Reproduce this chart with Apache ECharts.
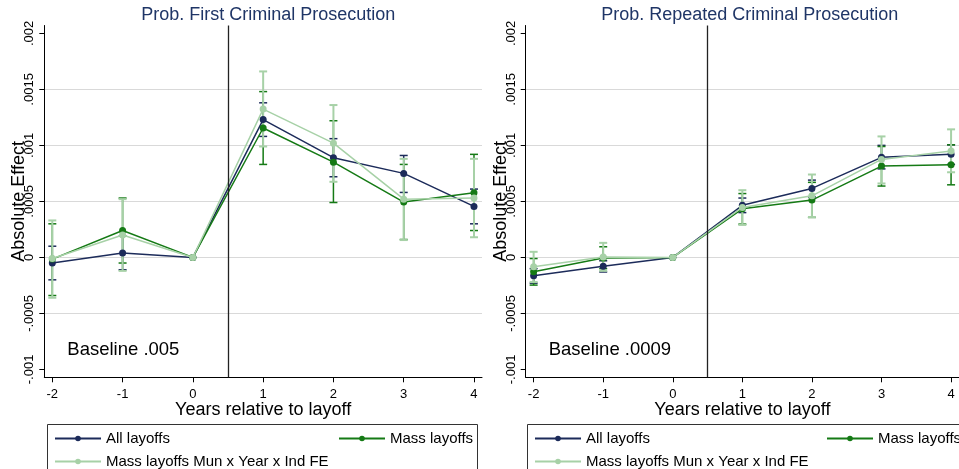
<!DOCTYPE html>
<html>
<head>
<meta charset="utf-8">
<script src="https://cdn.jsdelivr.net/npm/echarts@6/dist/echarts.min.js"></script>
<style>
html,body{margin:0;padding:0;background:#fff;}
#chart{width:959px;height:469px;}
</style>
</head>
<body>
<div id="chart"></div>
<script>
// ---------- DATA ----------
const years = [-2, -1, 0, 1, 2, 3, 4];
const yTicks = [-0.001, -0.0005, 0, 0.0005, 0.001, 0.0015, 0.002];
const layoffLine = 0.5;
const seriesNames = ['All layoffs', 'Mass layoffs', 'Mass layoffs Mun x Year x Ind FE'];
const panelTitles = ['Prob. First Criminal Prosecution', 'Prob. Repeated Criminal Prosecution'];
const baselines = ['Baseline .005', 'Baseline .0009'];
const xTitle = 'Years relative to layoff';
const yTitle = 'Absolute Effect';

// Panel 1: first criminal prosecution
const firstAll    = [-0.00005, 0.00004, 0, 0.00123, 0.00089, 0.00075, 0.000455];
const firstAllLo  = [-0.0002, -0.00011, 0, 0.00108, 0.00072, 0.00058, 0.0003];
const firstAllHi  = [0.0001, 0.00019, 0, 0.00138, 0.00106, 0.00091, 0.00061];
const firstMass   = [-0.000015, 0.00024, 0, 0.001155, 0.00085, 0.000494, 0.000577];
const firstMassLo = [-0.00034, -0.00005, 0, 0.00083, 0.00049, 0.00016, 0.00024];
const firstMassHi = [0.0003, 0.00053, 0, 0.00148, 0.00122, 0.00083, 0.00092];
const firstFE     = [-0.00001, 0.0002, 0, 0.001324, 0.00102, 0.00052, 0.00053];
const firstFELo   = [-0.00036, -0.00012, 0, 0.00099, 0.000675, 0.000155, 0.00018];
const firstFEHi   = [0.00033, 0.00052, 0, 0.00166, 0.00136, 0.00088, 0.00088];

// Panel 2: repeated criminal prosecution
const repAll    = [-0.000164, -0.000078, 0, 0.000465, 0.000616, 0.000893, 0.00092];
const repAllLo  = [-0.00023, -0.00013, 0, 0.0004, 0.00054, 0.00079, 0.00083];
const repAllHi  = [-0.0001, -0.00003, 0, 0.00053, 0.00069, 0.001, 0.001005];
const repMass   = [-0.000128, -0.000005, 0, 0.000434, 0.000512, 0.000815, 0.000827];
const repMassLo = [-0.000247, -0.0001, 0, 0.000297, 0.000357, 0.000637, 0.000648];
const repMassHi = [-0.00001, 0.000095, 0, 0.00057, 0.00067, 0.00099, 0.001005];
const repFE     = [-0.000083, 0.000003, 0, 0.000446, 0.00055, 0.000875, 0.000949];
const repFELo   = [-0.00022, -0.00012, 0, 0.00029, 0.00036, 0.00066, 0.00076];
const repFEHi   = [0.00005, 0.00013, 0, 0.0006, 0.00074, 0.00108, 0.001143];

// ---------- STYLE ----------
const colors = ['#1c2b5a', '#157a15', '#a7d1a7'];
const font = "'Liberation Sans', Arial, Helvetica, sans-serif";

const panels = [
  { est: [firstAll, firstMass, firstFE], lo: [firstAllLo, firstMassLo, firstFELo], hi: [firstAllHi, firstMassHi, firstFEHi] },
  { est: [repAll, repMass, repFE], lo: [repAllLo, repMassLo, repFELo], hi: [repAllHi, repMassHi, repFEHi] }
];

const gridLefts = [44.3, 525.7];
const gridWidth = 437.7;

function fmtY(v) {
  if (Math.abs(v) < 1e-12) return '0';
  return String(+v.toPrecision(6)).replace('0.', '.');
}

const grids = [], xAxes = [], yAxes = [], series = [], titles = [], legends = [], graphics = [];

panels.forEach((p, k) => {
  grids.push({ left: gridLefts[k], top: 25.5, width: gridWidth, height: 351.8, containLabel: false });
  xAxes.push({
    type: 'value', gridIndex: k, min: -2.114, max: 4.114,
    name: xTitle, nameLocation: 'middle', nameGap: 24, nameMoveOverlap: false,
    nameTextStyle: { fontSize: 18, color: '#000', fontFamily: font },
    axisLine: { show: true, onZero: false, lineStyle: { color: '#000', width: 1 } },
    axisTick: { show: true, length: 5, customValues: years, lineStyle: { color: '#000' } },
    axisLabel: { customValues: years, fontSize: 13, color: '#000', margin: 11, fontFamily: font },
    splitLine: { show: false }
  });
  yAxes.push({
    type: 'value', gridIndex: k, min: -0.00107, max: 0.00207,
    name: yTitle, nameLocation: 'middle', nameGap: 16, nameMoveOverlap: false,
    nameTextStyle: { fontSize: 18, color: '#000', fontFamily: font },
    axisLine: { show: true, onZero: false, lineStyle: { color: '#000', width: 1 } },
    axisTick: { show: true, length: 5, customValues: yTicks, lineStyle: { color: '#000' } },
    axisLabel: { customValues: yTicks, rotate: 90, fontSize: 13, color: '#000', margin: 8, formatter: fmtY, fontFamily: font },
    splitLine: { show: true, showMinLine: false, showMaxLine: false, lineStyle: { color: '#d9d9d9', width: 1 } }
  });

  // confidence intervals first
  p.est.forEach((est, s) => {
    const lo = p.lo[s], hi = p.hi[s];
    const d = years.map((y, i) => [y, lo[i], hi[i]]).filter(r => r[1] !== r[2]);
    series.push({
      type: 'custom', xAxisIndex: k, yAxisIndex: k, silent: true, z: 2 + s * 0.1,
      data: d, encode: { x: 0, y: [1, 2] },
      renderItem: function (params, api) {
        const x = api.value(0);
        const a = api.coord([x, api.value(1)]);
        const b = api.coord([x, api.value(2)]);
        const cw = 4;
        const st = { stroke: colors[s], lineWidth: s === 2 ? 2 : 1.5 };
        return {
          type: 'group', children: [
            { type: 'line', shape: { x1: a[0], y1: a[1], x2: b[0], y2: b[1] }, style: st },
            { type: 'line', shape: { x1: a[0] - cw, y1: a[1], x2: a[0] + cw, y2: a[1] }, style: st },
            { type: 'line', shape: { x1: b[0] - cw, y1: b[1], x2: b[0] + cw, y2: b[1] }, style: st }
          ]
        };
      }
    });
  });
  // point estimate lines
  p.est.forEach((est, s) => {
    const ser = {
      type: 'line', name: seriesNames[s], xAxisIndex: k, yAxisIndex: k, z: 3 + s * 0.1,
      data: years.map((y, i) => [y, est[i]]),
      symbol: 'circle', symbolSize: 7, showSymbol: true,
      lineStyle: { color: colors[s], width: 1.5 },
      itemStyle: { color: colors[s] },
      emphasis: { disabled: true }
    };
    if (s === 0) {
      ser.markLine = {
        silent: true, symbol: 'none', label: { show: false },
        lineStyle: { color: '#222', width: 1.3, type: 'solid' },
        data: [{ xAxis: layoffLine }]
      };
    }
    series.push(ser);
  });

  const cx = gridLefts[k] + 219;
  titles.push({ text: panelTitles[k], left: cx, top: 1, textAlign: 'center',
    textStyle: { fontSize: 18, fontWeight: 'normal', color: '#1f3566', fontFamily: font } });
  titles.push({ text: baselines[k], left: gridLefts[k] + 18, top: 335,
    textStyle: { fontSize: 18.5, fontWeight: 'normal', color: '#000', fontFamily: font } });

  const off = k * 480;
  const legText = { fontSize: 15, color: '#000', fontFamily: font };
  legends.push({ data: [seriesNames[0]], left: 49 + off, top: 426, itemWidth: 46, itemHeight: 7, selectedMode: false, textStyle: legText });
  legends.push({ data: [seriesNames[1]], left: 333 + off + (k ? 8 : 0), top: 426, itemWidth: 46, itemHeight: 7, selectedMode: false, textStyle: legText });
  legends.push({ data: [seriesNames[2]], left: 49 + off, top: 449, itemWidth: 46, itemHeight: 7, selectedMode: false, textStyle: legText });
  graphics.push({ type: 'rect', shape: { x: 47.5 + off, y: 424.5, width: k ? 440 : 430, height: 60 },
    style: { fill: 'none', stroke: '#333', lineWidth: 1 }, silent: true });
});

const chart = echarts.init(document.getElementById('chart'), null, { renderer: 'canvas' });
chart.setOption({
  animation: false,
  backgroundColor: '#fff',
  textStyle: { fontFamily: font },
  title: titles,
  legend: legends,
  grid: grids,
  xAxis: xAxes,
  yAxis: yAxes,
  series: series,
  graphic: graphics
});
</script>
</body>
</html>
